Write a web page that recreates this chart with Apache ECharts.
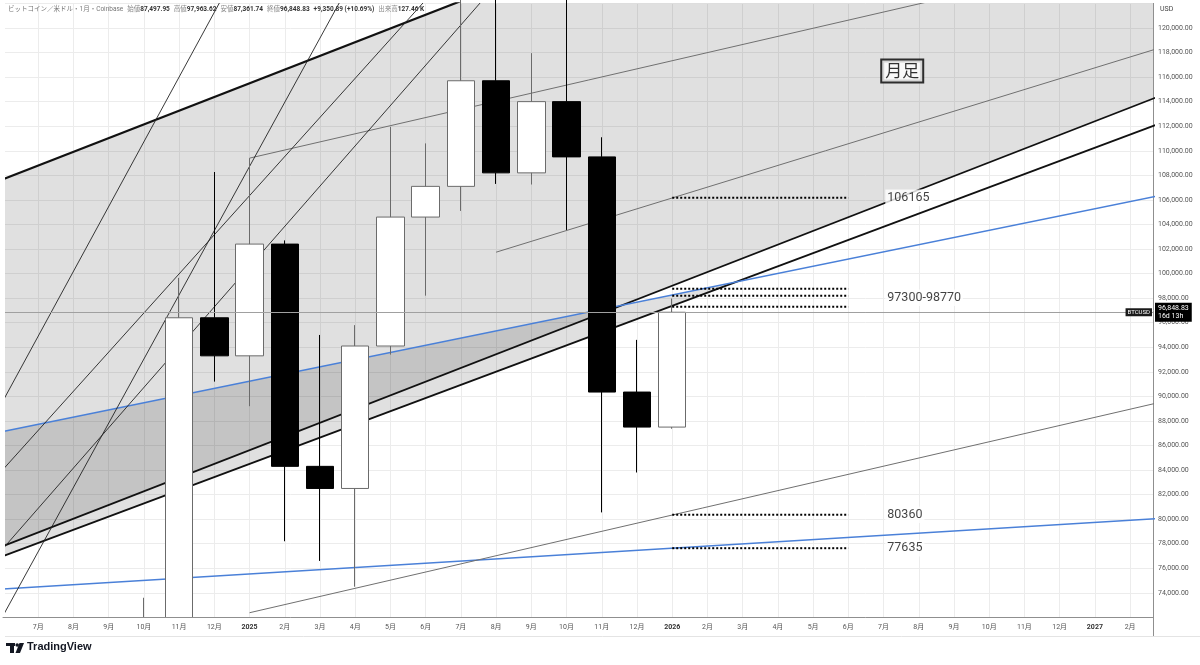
<!DOCTYPE html>
<html><head><meta charset="utf-8">
<script src="https://cdn.jsdelivr.net/npm/echarts@6/dist/echarts.min.js"></script>
<style>html,body{margin:0;padding:0;background:#fff}#c{width:1200px;height:665px}</style>
</head><body><div id="c"></div>
<script>
// ---- tick labels (x index 0 = 2024-07) ----
const monthLabels = ['7月','8月','9月','10月','11月','12月','2025','2月','3月','4月','5月','6月',
  '7月','8月','9月','10月','11月','12月','2026','2月','3月','4月','5月','6月',
  '7月','8月','9月','10月','11月','12月','2027','2月'];
const yearLabels = ['2025','2026','2027'];

// ---- monthly candles (BTC/USD, Coinbase) ----
const candleMonth = [3,4,5,6,7,8,9,10,11,12,13,14,15,16,17,18];
const openP  = [63300,70200,96400,93300,102400,84300,82500,94100,104600,107100,115700,108200,114000,109500,90350,87497.95];
const closeP = [70200,96400,93300,102400,84300,82500,94100,104600,107100,115700,108200,114000,109500,90350,87497.95,96848.83];
const lowP   = [58900,66800,91200,89200,78200,76600,74500,93400,98200,105100,107300,107250,103550,80550,83800,87361.74];
const highP  = [73600,99650,108270,109400,102700,95000,95800,111950,110600,123200,124450,117950,126200,111100,94600,97963.62];
const lastClose = 96848.83;
const countdown = '16d 13h';
const headerText = ['ビットコイン／米ドル・1月・Coinbase','始値','87,497.95','高値','97,963.62','安値','87,361.74','終値','96,848.83','+9,350.89 (+10.69%)','出来高','127.46 K'];

// ---- drawn lines: [monthIndex, price] endpoints ----
const chanTop     = [[-1,107684],[32,144512]];
const chanBottom  = [[-1,77804],[32,114632]];
const chanBottom2 = [[-1,76993],[32,112395]];
const blueUpper   = [[-1,87134],[32,106445]];
const blueLower   = [[-1,74307],[32,80085]];
const greyUpper   = [[6,109400],[32,126586]];
const greyLower   = [[6,72380],[32,89618]];
const greyMid     = [[13,101740],[32,118518]];
const steepA = [[-1,89634],[6,126552]];
const steepB = [[-1,72131],[9,124410]];
const steepC = [[-1,84045],[12,125463]];
const steepD = [[-1,77604],[13,123524]];
const fillA = [[-1,107684],[32,144512],[32,114632],[-1,77804]];
const fillB = [[-1,87134],[19.8,99300],[-1,76993]];

// ---- horizontal levels & notes ----
const levelStart = 18, levelEnd = 23;
const levels = [106165, 98770, 98200, 97300, 80360, 77635];
const noteX = [24.05, 24.05, 24.05, 24.05];
const noteY = [106165, 98035, 80360, 77635];
const noteText = ['106165','97300-98770','80360','77635'];
const titleNote = {x: 24.53, y: 116500, text: '月足'};

const FONT = "Roboto, 'Noto Sans CJK JP', sans-serif";

function lineS(pts, color, width, type, z) {
  return {type:'line', data: pts, symbol:'none', showSymbol:false, silent:true, clip:true,
    lineStyle:{color:color, width:width, type:type||'solid'}, z:z||2, animation:false};
}
function polyS(points) {
  return {type:'custom', coordinateSystem:'cartesian2d', clip:true, silent:true, z:1,
    data:[points[0]],
    renderItem: function (params, api) {
      return {type:'polygon', shape:{points: points.map(function(p){return api.coord(p);})},
        style:{fill:'rgba(0,0,0,0.12)'}};
    }};
}

const candleData = candleMonth.map((m,i)=>[m, openP[i], closeP[i], lowP[i], highP[i]]);

const series = [
  polyS(fillA), polyS(fillB),
  lineS(chanTop,'#111',2.2), lineS(chanBottom,'#111',1.8), lineS(chanBottom2,'#111',1.8),
  lineS(blueUpper,'#4a80d8',1.4), lineS(blueLower,'#4a80d8',1.4),
  lineS(greyUpper,'#707070',1), lineS(greyLower,'#707070',1), lineS(greyMid,'#707070',1),
  lineS(steepA,'#222',0.9), lineS(steepB,'#222',0.9), lineS(steepC,'#222',0.9), lineS(steepD,'#222',0.9),
  {type:'candlestick', data:candleData, barWidth:28, z:3, silent:true,
    encode:{x:0, y:[1,2,3,4]},
    itemStyle:{color:'#ffffff', color0:'#000000', borderColor:'#6b6b6b', borderColor0:'#000000', borderWidth:1},
    markLine:{symbol:'none', silent:true, animation:false,
      lineStyle:{color:'#a0a0a0', width:1, type:'solid'},
      data:[
        {yAxis:lastClose, label:{show:true, position:'end', distance:2,
          formatter: lastClose.toLocaleString('en-US',{minimumFractionDigits:2}) + '\n' + countdown,
          backgroundColor:'#000', color:'#fff', fontSize:7, lineHeight:8.5, padding:[1,3], fontFamily:FONT}},
        {yAxis:lastClose, label:{show:true, position:'insideEnd', distance:1, formatter:'BTCUSD',
          backgroundColor:'#1a1a1a', color:'#fff', fontSize:6, padding:[1,2], fontFamily:FONT}}
      ]}
  }
];
levels.forEach(v => series.push(lineS([[levelStart,v],[levelEnd,v]],'#000',2,'dotted',4)));
series.push({type:'scatter', symbolSize:0, silent:true, z:5,
  data: noteText.map((t,i)=>({name:t, value:[noteX[i], noteY[i]]})),
  label:{show:true, position:'right', distance:0, formatter:p=>p.name, color:'#111', fontSize:12.5,
    fontFamily:FONT, backgroundColor:'#fff', padding:[2,2]}});
series.push({type:'scatter', symbolSize:0, silent:true, z:5,
  data:[{name:titleNote.text, value:[titleNote.x, titleNote.y]}],
  label:{show:true, position:'inside', formatter:p=>p.name, color:'#000', fontSize:17,
    fontFamily:"'Noto Sans CJK JP', sans-serif", backgroundColor:'#fff', borderColor:'#000', borderWidth:2, padding:[2,3]}});

function xLabel(v) {
  if (Math.abs(v - Math.round(v)) > 1e-6) return '';
  const i = Math.round(v);
  if (i < 0 || i >= monthLabels.length) return '';
  const t = monthLabels[i];
  return yearLabels.indexOf(t) >= 0 ? '{y|' + t + '}' : t;
}

const h = headerText;
const option = {
  animation:false,
  backgroundColor:'#fff',
  grid:{left:1.74, right:47, top:3.4, bottom:47.6, containLabel:false},
  xAxis:[
    {type:'value', min:-1, max:31.65, interval:1, z:0,
      axisLine:{show:false, onZero:false}, axisTick:{show:false}, axisLabel:{show:false},
      splitLine:{show:true, lineStyle:{color:'#ececec', width:1}}},
    {type:'value', min:-1, max:31.65, interval:1, position:'bottom', z:60,
      axisLine:{show:true, onZero:false, lineStyle:{color:'#8f8f8f'}}, axisTick:{show:false},
      splitLine:{show:false},
      axisLabel:{formatter:xLabel, fontSize:7, color:'#555', margin:6, fontFamily:FONT, showMinLabel:true, showMaxLabel:true,
        rich:{y:{fontSize:7, fontWeight:'bold', color:'#333', fontFamily:FONT}}}}
  ],
  yAxis:{type:'value', position:'right', min:72000, max:122000, interval:2000,
    axisLine:{show:true, onZero:false, lineStyle:{color:'#8f8f8f'}}, axisTick:{show:false},
    splitLine:{show:true, lineStyle:{color:'#ececec', width:1}},
    axisLabel:{fontSize:7, color:'#555', margin:5, fontFamily:FONT,
      formatter:v => (v < 74000 || v > 120000) ? '' : v.toLocaleString('en-US',{minimumFractionDigits:2, maximumFractionDigits:2})}},
  series: series,
  graphic:{elements:[
    {type:'rect', z:50, silent:true, shape:{x:0, y:618, width:1153, height:47}, style:{fill:'#fff'}},
    {type:'rect', z:50, silent:true, shape:{x:0, y:0, width:5, height:665}, style:{fill:'#fff'}},
    {type:'line', z:51, silent:true, shape:{x1:5, y1:636.5, x2:1200, y2:636.5}, style:{stroke:'#e4e4e4', lineWidth:1}},
    {type:'line', z:51, silent:true, shape:{x1:1153.5, y1:617, x2:1153.5, y2:636}, style:{stroke:'#8f8f8f', lineWidth:1}},
    {type:'text', z:60, silent:true, x:8, y:6, style:{
      text: h[0] + '{l|' + h[1] + '}{v|' + h[2] + '}{l|' + h[3] + '}{v|' + h[4] + '}{l|' + h[5] + '}{v|' + h[6] + '}{l|' + h[7] + '}{v|' + h[8] + '}{s|' + h[9] + '}{l|' + h[10] + '}{v|' + h[11] + '}',
      fill:'#777', fontSize:6.5, fontFamily:FONT,
      rich:{l:{fill:'#888', fontSize:6.5, fontFamily:FONT, padding:[0,0,0,4]},
            s:{fill:'#333', fontSize:6.5, fontWeight:'bold', fontFamily:FONT, padding:[0,0,0,4]},
            v:{fill:'#333', fontSize:6.5, fontWeight:'bold', fontFamily:FONT}}}},
    {type:'text', z:60, silent:true, x:1160, y:6, style:{text:'USD', fill:'#444', fontSize:7, fontFamily:FONT}},
    {type:'rect', z:60, silent:true, shape:{x:6, y:643, width:9, height:3}, style:{fill:'#131722'}},
    {type:'rect', z:60, silent:true, shape:{x:10, y:643, width:4, height:10}, style:{fill:'#131722'}},
    {type:'circle', z:60, silent:true, shape:{cx:17.2, cy:645, r:1.8}, style:{fill:'#131722'}},
    {type:'polygon', z:60, silent:true, shape:{points:[[19.5,643],[24,643],[20,653],[15.5,653]]}, style:{fill:'#131722'}},
    {type:'text', z:60, silent:true, x:27, y:641, style:{text:'TradingView', fill:'#131722', fontSize:11, fontWeight:'bold', fontFamily:"'Liberation Sans', Arial, sans-serif"}}
  ]}
};
const chart = echarts.init(document.getElementById('c'), null, {renderer:'canvas'});
chart.setOption(option);
</script>
</body></html>
